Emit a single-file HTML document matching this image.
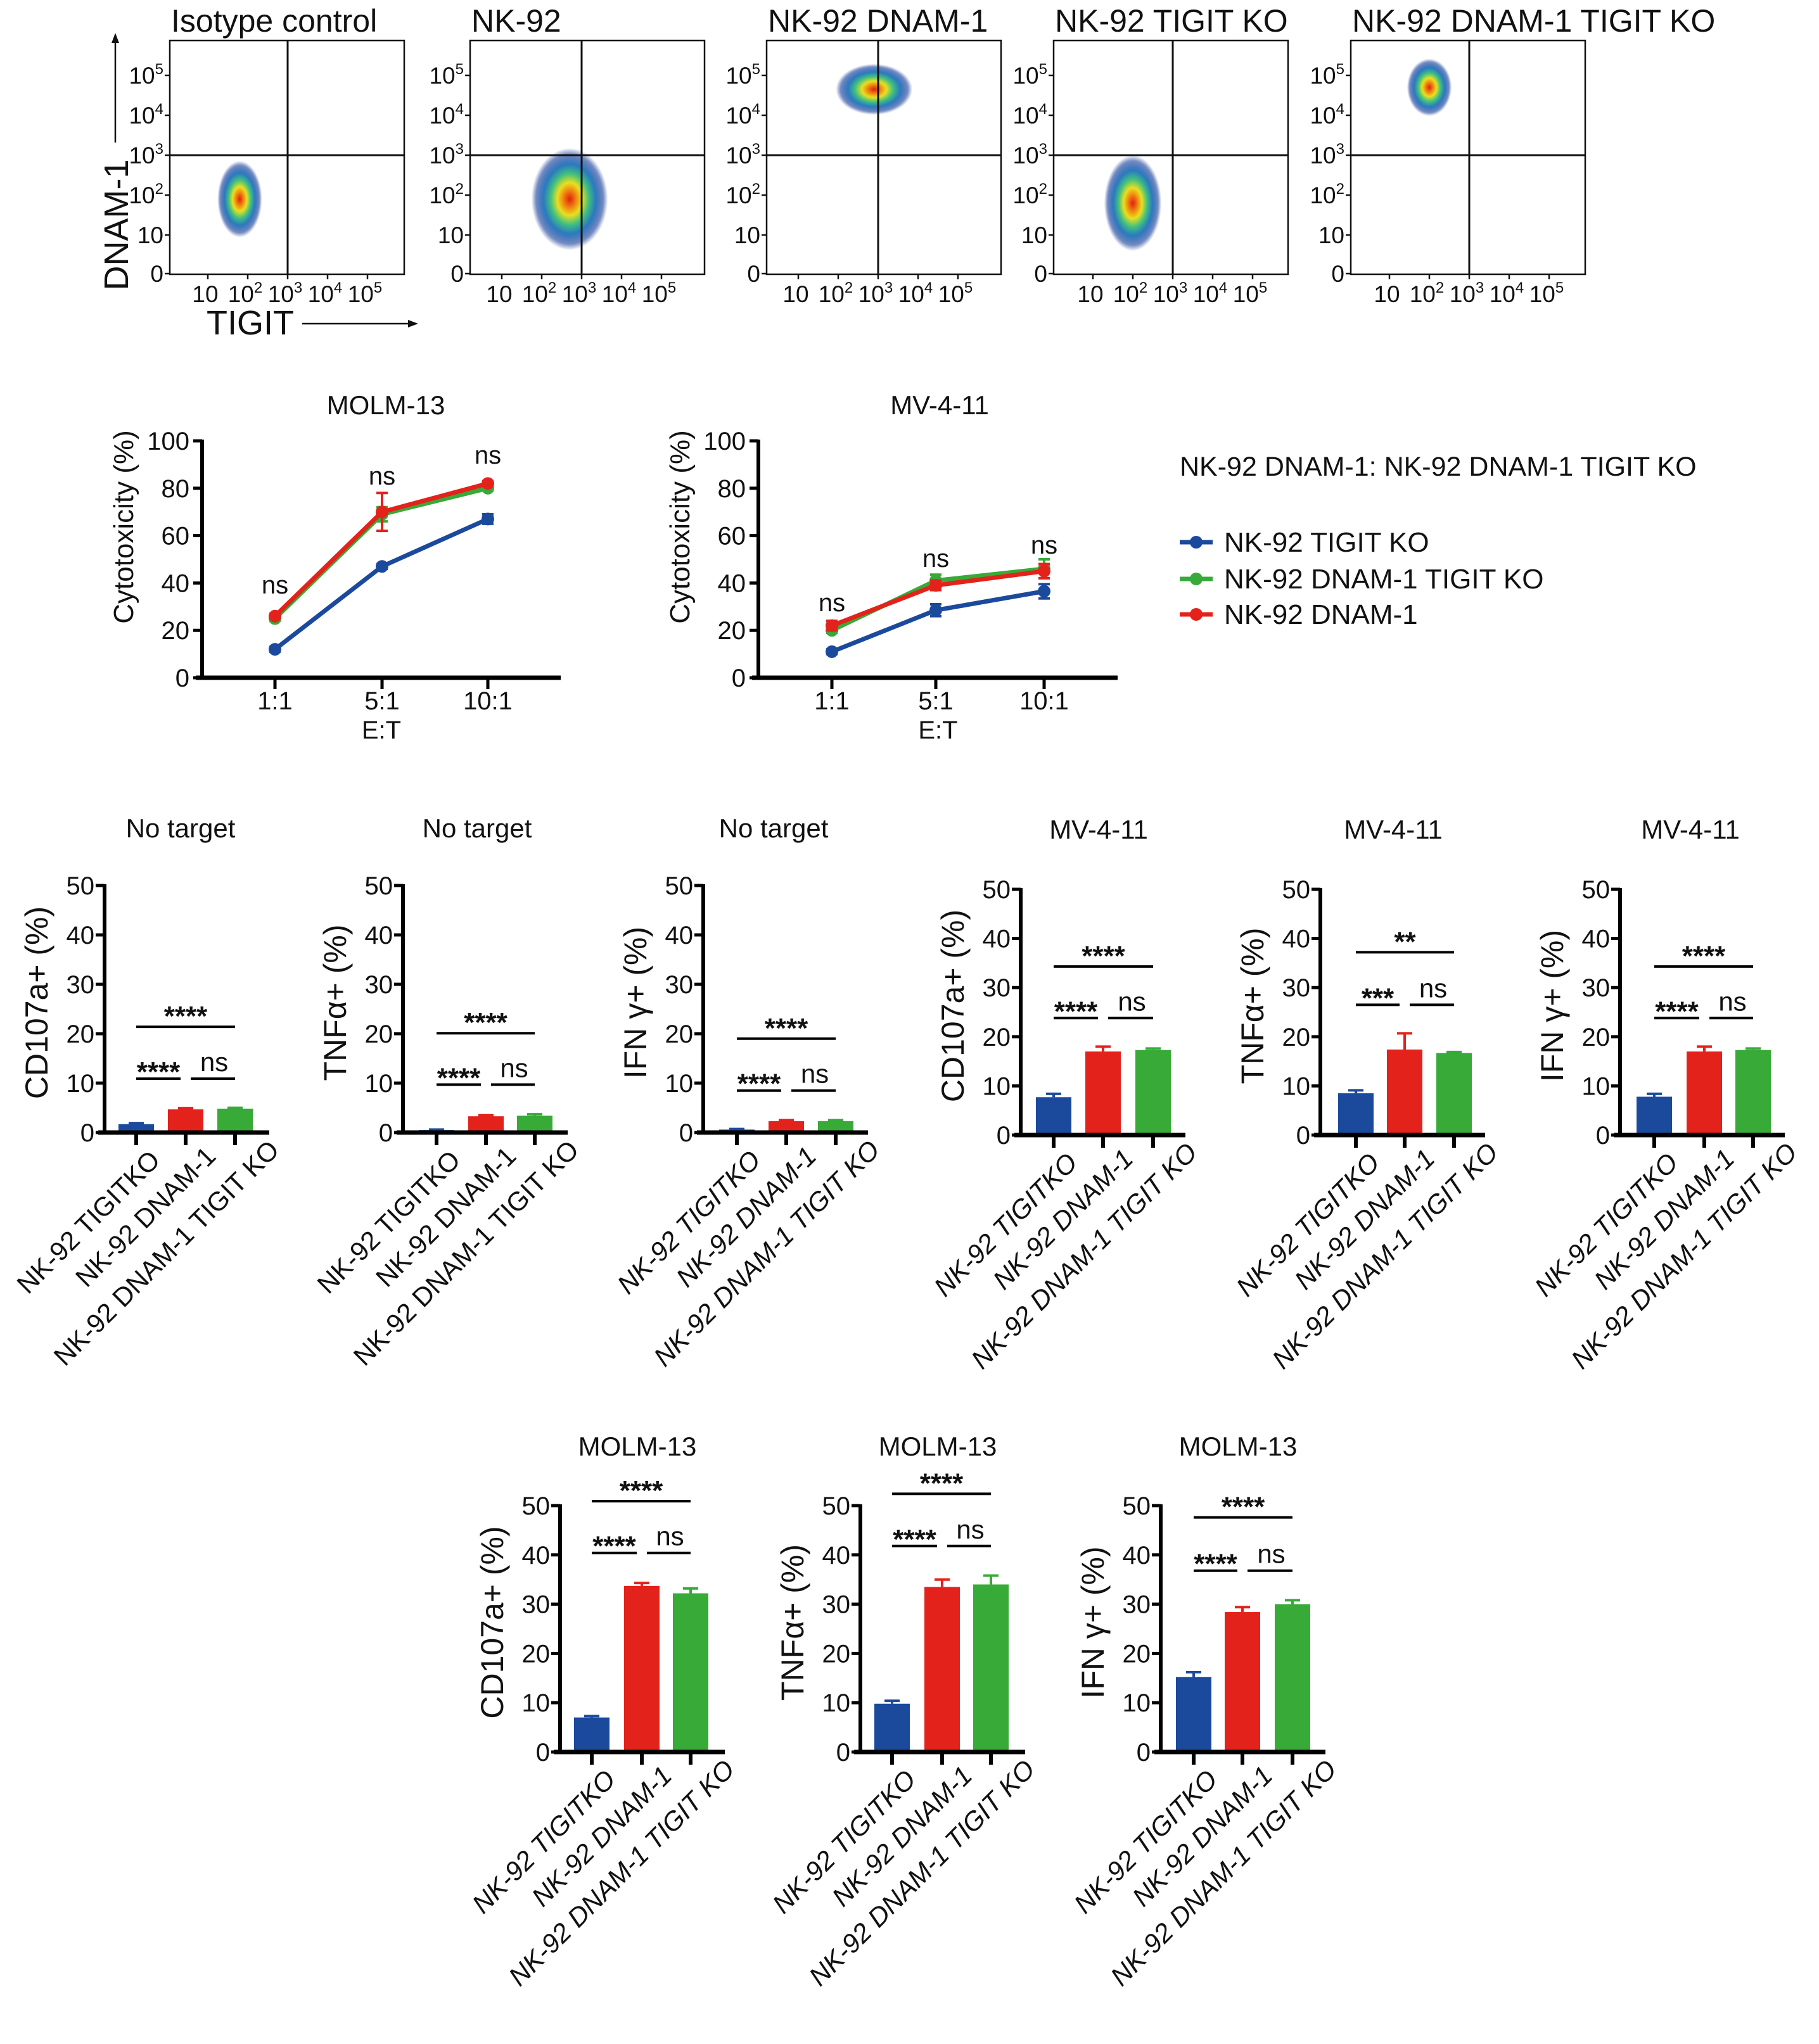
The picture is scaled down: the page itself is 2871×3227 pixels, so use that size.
<!DOCTYPE html>
<html><head><meta charset="utf-8"><style>
html,body{margin:0;padding:0;background:#fff}
svg{display:block}
text{font-family:"Liberation Sans",Arial,sans-serif;fill:#111}
</style></head><body>
<svg id="fig" xmlns="http://www.w3.org/2000/svg" width="2871" height="3227" viewBox="0 0 2871 3227">
<defs>
<radialGradient id="dens" cx="50%" cy="50%" r="50%">
<stop offset="0" stop-color="#e02010"/>
<stop offset="0.18" stop-color="#f08a10"/>
<stop offset="0.32" stop-color="#e8e020"/>
<stop offset="0.5" stop-color="#40c080"/>
<stop offset="0.68" stop-color="#2a7ac0"/>
<stop offset="0.88" stop-color="#1a3f9a" stop-opacity="0.6"/>
<stop offset="1" stop-color="#1a3f9a" stop-opacity="0"/>
</radialGradient>
</defs>
<g id="flow"></g>
<g id="lines"></g>
<g id="bars"></g>
</svg>
<script>
// ---------- flow data ----------
const flowTitles = ["Isotype control","NK-92","NK-92 DNAM-1","NK-92 TIGIT KO","NK-92 DNAM-1 TIGIT KO"];
const flowCloudX = [1.8, 2.7, 2.9, 2.0, 2.0];
const flowCloudY = [1.9, 1.9, 4.65, 1.8, 4.7];
const flowSpreadX = [0.35, 0.6, 0.6, 0.45, 0.35];
const flowSpreadY = [0.6, 0.8, 0.4, 0.75, 0.45];
const flowYTicks = ["5","4","3","2","1","0"];
const flowXTicks = ["1","2","3","4","5"];

// ---------- line chart data ----------
const etCategories = ["1:1","5:1","10:1"];
const molmBlue = [12, 47, 67];
const molmGreen = [25, 69, 80];
const molmRed = [26, 70, 82];
const molmBlueErr = [1, 1, 2];
const molmGreenErr = [1, 3, 1];
const molmRedErr = [1, 8, 1];
const mvBlue = [11, 28.5, 36.5];
const mvGreen = [20, 41, 46];
const mvRed = [22, 39, 45];
const mvBlueErr = [1, 2.5, 3];
const mvGreenErr = [1, 2.5, 4];
const mvRedErr = [2, 2, 3];
const lineTicks = [0,20,40,60,80,100];
const lineSig = ["ns","ns","ns"];

// ---------- bar data ----------
const barCategories = ["NK-92 TIGITKO","NK-92 DNAM-1","NK-92 DNAM-1 TIGIT KO"];
const barTicks = [0,10,20,30,40,50];
const bar1Values = [1.7, 4.7, 4.8];   const bar1Err = [0.2,0.2,0.2];
const bar2Values = [0.5, 3.3, 3.4];   const bar2Err = [0.1,0.2,0.3];
const bar3Values = [0.6, 2.3, 2.3];   const bar3Err = [0.1,0.2,0.2];
const bar4Values = [7.7, 17, 17.3];   const bar4Err = [0.7,1,0.3];
const bar5Values = [8.5, 17.4, 16.7]; const bar5Err = [0.6,3.3,0.2];
const bar6Values = [7.8, 17, 17.3];   const bar6Err = [0.6,1,0.3];
const bar7Values = [7, 33.7, 32.2];   const bar7Err = [0.3,0.6,1];
const bar8Values = [9.8, 33.5, 34];   const bar8Err = [0.6,1.5,1.8];
const bar9Values = [15.2, 28.4, 30];  const bar9Err = [1,1,0.8];
const barSigLow = [10.9, 9.7, 8.5, 23.8, 26.5, 23.8, 40.4, 41.8, 36.8];
const barSigHigh = [21.4, 20.1, 19, 34.3, 37.2, 34.3, 50.9, 52.4, 47.6];
const barSigLeft = ["****","****","****","****","***","****","****","****","****"];
const barSigTop = ["****","****","****","****","**","****","****","****","****"];

const NS="http://www.w3.org/2000/svg";
function mk(tag, attrs, parent, txt){const e=document.createElementNS(NS,tag);for(const k in attrs)e.setAttribute(k,attrs[k]);if(txt!==undefined)e.textContent=txt;parent.appendChild(e);return e;}
const BLUE="#1b4a9d", RED="#e3221b", GREEN="#37aa38";

// ================= FLOW =================
const flowG=document.getElementById('flow');
const flowLayout=[{l:268,v:186},{l:742,v:176},{l:1210,v:176},{l:1663,v:188},{l:2132,v:187}];
const FT=64,FB=433,FW=370;
function fy(d){return d<=0?432:245-(d-3)*63;}
flowLayout.forEach((p,i)=>{
  const g=mk('g',{},flowG);
  
  
  const fx=d=>p.l+p.v+(d-3)*63;
  const t=mk('text',{x:p.l+2,y:50,'font-size':50},g,flowTitles[i]);
  
  
  const cx=fx(flowCloudX[i]), cy=fy(flowCloudY[i]);
  const c=mk('ellipse',{cx:cx,cy:cy,rx:flowSpreadX[i]*63*1.6,ry:flowSpreadY[i]*63*1.6,fill:'url(#dens)'},g);
  
  
  const box=mk('rect',{x:p.l,y:FT,width:FW,height:FB-FT,fill:'none',stroke:'#111','stroke-width':2.5},g);
  
  
  mk('line',{x1:p.l,x2:p.l+FW,y1:fy(3),y2:fy(3),stroke:'#111','stroke-width':3},g);
  mk('line',{x1:fx(3),x2:fx(3),y1:FT,y2:FB,stroke:'#111','stroke-width':3},g);
  flowYTicks.forEach((s,k)=>{
    const d=+s, y=fy(d);
    mk('line',{x1:p.l-8,x2:p.l,y1:y,y2:y,stroke:'#111','stroke-width':2.5},g);
    const tx=mk('text',{x:p.l-10,y:y+13,'font-size':37,'text-anchor':'end'},g);
    
    
    if(d===0)tx.textContent='0';else if(d===1)tx.textContent='10';else{tx.textContent='10';mk('tspan',{'font-size':24,dy:-15},tx,s);}
  });
  flowXTicks.forEach(s=>{
    const d=+s,x=fx(d);
    mk('line',{x1:x,x2:x,y1:FB,y2:FB+8,stroke:'#111','stroke-width':2.5},g);
    const tx=mk('text',{x:x-4,y:477,'font-size':37,'text-anchor':'middle'},g);
    
    
    tx.textContent='10';if(d>1)mk('tspan',{'font-size':24,dy:-15},tx,s);
  });
});
let yl=mk('text',{x:0,y:0,'font-size':54,'text-anchor':'middle',transform:'translate(202,355) rotate(-90)'},flowG,'DNAM-1');


mk('line',{x1:182,x2:182,y1:225,y2:62,stroke:'#111','stroke-width':2.5},flowG);
mk('polygon',{points:'182,52 176,68 188,68',fill:'#111'},flowG);
let xl=mk('text',{x:395,y:528,'font-size':54,'text-anchor':'middle'},flowG,'TIGIT');


mk('line',{x1:477,x2:648,y1:511,y2:511,stroke:'#111','stroke-width':2.5},flowG);
mk('polygon',{points:'660,511 644,505 644,517',fill:'#111'},flowG);

// ================= LINE CHARTS =================
const linesG=document.getElementById('lines');
function lineChart(cfg){
  const g=mk('g',{},linesG);
  
  
  const y=v=>cfg.y0-(v/100)*(cfg.y0-cfg.y100);
  const x=i=>cfg.cats[i];
  const t=mk('text',{x:cfg.tx,y:654,'font-size':42,'text-anchor':'middle'},g,cfg.title);
  
  
  mk('line',{x1:cfg.ax,x2:cfg.ax,y1:y(100)-2,y2:cfg.y0,stroke:'#000','stroke-width':6},g);
  mk('line',{x1:cfg.ax-10,x2:cfg.xend,y1:cfg.y0,y2:cfg.y0,stroke:'#000','stroke-width':7},g);
  lineTicks.forEach(v=>{
    mk('line',{x1:cfg.ax-14,x2:cfg.ax,y1:y(v),y2:y(v),stroke:'#000','stroke-width':5},g);
    const tl=mk('text',{x:cfg.ax-20,y:y(v)+14,'font-size':40,'text-anchor':'end'},g,String(v));
    
    
  });
  etCategories.forEach((c,i)=>{
    mk('line',{x1:x(i),x2:x(i),y1:cfg.y0,y2:cfg.y0+18,stroke:'#000','stroke-width':5},g);
    const tl=mk('text',{x:x(i),y:1120,'font-size':40,'text-anchor':'middle'},g,c);
    
    
    const s=mk('text',{x:x(i),y:cfg.sigY[i],'font-size':40,'text-anchor':'middle'},g,lineSig[i]);
    
    
  });
  const et=mk('text',{x:(x(0)+x(2))/2,y:1166,'font-size':40,'text-anchor':'middle'},g,'E:T');
  
  
  const yt=mk('text',{x:0,y:0,'font-size':44,'text-anchor':'middle',transform:`translate(${cfg.ylx},832) rotate(-90)`},g,'Cytotoxicity (%)');
  
  
  cfg.series.forEach(s=>{
    const sg=mk('g',{},g);
    
    
    const pts=s.v.map((v,i)=>x(i)+','+y(v)).join(' ');
    mk('polyline',{points:pts,fill:'none',stroke:s.c,'stroke-width':7,'stroke-linejoin':'round'},sg);
    s.v.forEach((v,i)=>{
      const e=s.e[i];
      mk('line',{x1:x(i),x2:x(i),y1:y(v+e),y2:y(v-e),stroke:s.c,'stroke-width':4},sg);
      mk('line',{x1:x(i)-9,x2:x(i)+9,y1:y(v+e),y2:y(v+e),stroke:s.c,'stroke-width':4},sg);
      mk('line',{x1:x(i)-9,x2:x(i)+9,y1:y(v-e),y2:y(v-e),stroke:s.c,'stroke-width':4},sg);
      const m=mk('circle',{cx:x(i),cy:y(v),r:10,fill:s.c},sg);
      
      
    });
  });
}
lineChart({name:'molm13-cytotoxicity',title:'MOLM-13',tx:609,ax:319,xend:885,y0:1070,y100:696,cats:[434,603,770],ylx:210,sigY:[937,765,732],
  series:[{name:'series-tigit-ko',v:molmBlue,e:molmBlueErr,c:BLUE},{name:'series-dnam1-tigit-ko',v:molmGreen,e:molmGreenErr,c:GREEN},{name:'series-dnam1',v:molmRed,e:molmRedErr,c:RED}]});
lineChart({name:'mv411-cytotoxicity',title:'MV-4-11',tx:1483,ax:1197,xend:1764,y0:1070,y100:696,cats:[1313,1477,1648],ylx:1088,sigY:[965,895,874],
  series:[{name:'series-tigit-ko',v:mvBlue,e:mvBlueErr,c:BLUE},{name:'series-dnam1-tigit-ko',v:mvGreen,e:mvGreenErr,c:GREEN},{name:'series-dnam1',v:mvRed,e:mvRedErr,c:RED}]});
const lg=mk('g',{},linesG);


const lh=mk('text',{x:1862,y:751,'font-size':43},lg,'NK-92 DNAM-1: NK-92 DNAM-1 TIGIT KO');


[["NK-92 TIGIT KO",BLUE,856],["NK-92 DNAM-1 TIGIT KO",GREEN,914],["NK-92 DNAM-1",RED,970]].forEach(r=>{
  const e=mk('g',{},lg);
  
  
  mk('line',{x1:1862,x2:1914,y1:r[2],y2:r[2],stroke:r[1],'stroke-width':7},e);
  mk('circle',{cx:1888,cy:r[2],r:10,fill:r[1]},e);
  mk('text',{x:1932,y:r[2]+15,'font-size':44},e,r[0]);
});

// ================= BAR CHARTS =================
const barsG=document.getElementById('bars');
const barSets=[[bar1Values,bar1Err],[bar2Values,bar2Err],[bar3Values,bar3Err],[bar4Values,bar4Err],[bar5Values,bar5Err],[bar6Values,bar6Err],[bar7Values,bar7Err],[bar8Values,bar8Err],[bar9Values,bar9Err]];
const barLayout=[
 {ax:165,y0:1788,y50:1398,off:[50,128,206],title:'No target',tx:285,ty:1322,yl:'CD107a+ (%)',it:false},
 {ax:636,y0:1788,y50:1398,off:[53,131,208],title:'No target',tx:753,ty:1322,yl:'TNFα+ (%)',it:false},
 {ax:1110,y0:1788,y50:1398,off:[53,131,209],title:'No target',tx:1221,ty:1322,yl:'IFN γ+ (%)',it:true},
 {ax:1611,y0:1792,y50:1404,off:[52,130,209],title:'MV-4-11',tx:1734,ty:1324,yl:'CD107a+ (%)',it:true},
 {ax:2084,y0:1792,y50:1404,off:[56,133,211],title:'MV-4-11',tx:2199,ty:1324,yl:'TNFα+ (%)',it:true},
 {ax:2557,y0:1792,y50:1404,off:[54,133,210],title:'MV-4-11',tx:2668,ty:1324,yl:'IFN γ+ (%)',it:true},
 {ax:884,y0:2766,y50:2377,off:[50,129,206],title:'MOLM-13',tx:1006,ty:2298,yl:'CD107a+ (%)',it:true},
 {ax:1358,y0:2766,y50:2377,off:[50,129,206],title:'MOLM-13',tx:1480,ty:2298,yl:'TNFα+ (%)',it:true},
 {ax:1832,y0:2766,y50:2377,off:[52,129,208],title:'MOLM-13',tx:1954,ty:2298,yl:'IFN γ+ (%)',it:true}
];
const barColors=[BLUE,RED,GREEN];
const labDx=[40,50,72], labDy=[46,40,30];
barLayout.forEach((L,ci)=>{
  const g=mk('g',{},barsG);
  
  
  const y=v=>L.y0-(v/50)*(L.y0-L.y50);
  const x=i=>L.ax+L.off[i];
  const vals=barSets[ci][0], errs=barSets[ci][1];
  const t=mk('text',{x:L.tx,y:L.ty,'font-size':42,'text-anchor':'middle'},g,L.title);
  
  
  vals.forEach((v,i)=>{
    const e=errs[i];
    mk('line',{x1:x(i),x2:x(i),y1:y(v),y2:y(v+e),stroke:barColors[i],'stroke-width':4},g);
    mk('line',{x1:x(i)-12,x2:x(i)+12,y1:y(v+e),y2:y(v+e),stroke:barColors[i],'stroke-width':4},g);
    const b=mk('rect',{x:x(i)-28,y:y(v),width:56,height:L.y0-y(v),fill:barColors[i]},g);
    
    
  });
  mk('line',{x1:L.ax,x2:L.ax,y1:y(50)-2,y2:L.y0,stroke:'#000','stroke-width':6},g);
  mk('line',{x1:L.ax-10,x2:L.ax+260,y1:L.y0,y2:L.y0,stroke:'#000','stroke-width':7},g);
  barTicks.forEach(v=>{
    mk('line',{x1:L.ax-14,x2:L.ax,y1:y(v),y2:y(v),stroke:'#000','stroke-width':5},g);
    const tl=mk('text',{x:L.ax-16,y:y(v)+14,'font-size':40,'text-anchor':'end'},g,String(v));
    
    
  });
  barCategories.forEach((c,i)=>{
    mk('line',{x1:x(i),x2:x(i),y1:L.y0,y2:L.y0+20,stroke:'#000','stroke-width':6},g);
    const px=x(i)+labDx[i], py=L.y0+labDy[i];
    const tl=mk('text',{x:px,y:py,'font-size':42,'text-anchor':'end','font-style':L.it?'italic':'normal',transform:`rotate(-45 ${px} ${py})`},g,c);
    
    
  });
  const yt=mk('text',{x:0,y:0,'font-size':50,'text-anchor':'middle',transform:`translate(${L.ax-90},${(y(0)+y(50))/2-10}) rotate(-90)`},g,L.yl);
  
  
  const lo=y(barSigLow[ci]), hi=y(barSigHigh[ci]);
  mk('line',{x1:x(0),x2:x(1)-8,y1:lo,y2:lo,stroke:'#000','stroke-width':4},g);
  mk('line',{x1:x(1)+8,x2:x(2),y1:lo,y2:lo,stroke:'#000','stroke-width':4},g);
  mk('line',{x1:x(0),x2:x(2),y1:hi,y2:hi,stroke:'#000','stroke-width':4},g);
  const s1=mk('text',{x:(x(0)+x(1))/2-4,y:lo+4,'font-size':44,'text-anchor':'middle','font-weight':'bold'},g,barSigLeft[ci]);
  
  
  const s2=mk('text',{x:(x(1)+x(2))/2+6,y:lo-12,'font-size':42,'text-anchor':'middle'},g,'ns');
  
  
  const s3=mk('text',{x:(x(0)+x(2))/2,y:hi-2,'font-size':44,'text-anchor':'middle','font-weight':'bold'},g,barSigTop[ci]);
  
  
});
</script>
</body></html>
